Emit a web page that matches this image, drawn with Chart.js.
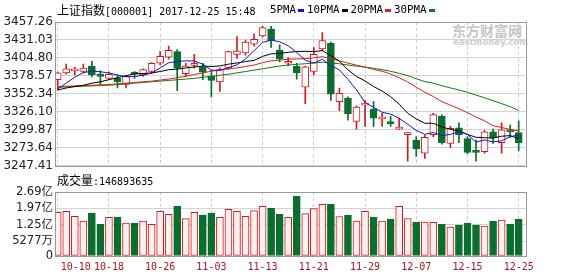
<!DOCTYPE html>
<html lang="zh-CN">
<head>
<meta charset="UTF-8">
<title>上证指数 日K线</title>
<script src="https://cdn.jsdelivr.net/npm/chart.js"></script>
<style>
  body { margin: 0; width: 578px; height: 276px; position: relative; overflow: hidden; background: #fff; }
  canvas { position: absolute; left: 0; }
  .txt { position: absolute; white-space: nowrap; color: #000; line-height: 14px; }
  .cjk { font-family: "Noto Sans CJK SC", sans-serif; font-size: 12px; }
  .mono { font-family: "DejaVu Sans Mono", monospace; font-size: 10px; }
  .leg { font-family: "DejaVu Sans Mono", monospace; font-size: 10.8px; }
  .dash { display: inline-block; width: 6px; height: 3px; margin: 0 3px 0 2px; vertical-align: middle; }
  .wm { position: absolute; white-space: nowrap; color: #c6c6c6; font-family: "Noto Sans CJK SC", sans-serif; font-weight: bold; font-size: 14px; line-height: 16px; }
  .wm2 { position: absolute; white-space: nowrap; color: #cdcdcd; font-family: "DejaVu Sans", sans-serif; font-weight: bold; font-size: 8.5px; line-height: 10px; }
</style>
</head>
<body>
<div class="wm" style="left:452px;top:22px;">东方财富网</div>
<div class="wm2" style="left:453px;top:37px;">eastmoney.com</div>

<canvas id="kline" width="578" height="176" style="top:0"></canvas>
<canvas id="volume" width="578" height="96" style="top:180px"></canvas>

<div class="txt" style="left:57px;top:3px;"><span class="cjk">上证指数</span><span class="mono">[000001] 2017-12-25 15:48</span></div>
<div class="txt leg" style="left:270px;top:3px;">5PMA<span class="dash" style="background:#1414c8"></span>10PMA<span class="dash" style="background:#000"></span>20PMA<span class="dash" style="background:#dc1e1e"></span>30PMA<span class="dash" style="background:#14781e"></span></div>
<div class="txt" style="left:57px;top:173px;"><span class="cjk">成交量</span><span class="mono">:146893635</span></div>

<script>
// daily candles 2017-10-10 .. 2017-12-25 (55 trading days)
const open  = [3373,3383,3386,3385,3393,3380,3375,3375,3366,3382,3380,3385,3397,3406,3414,3382,3394,3392,3378,3370,3390,3410,3412,3425,3437,3447,3416,3397,3393,3362,3385,3418,3426,3341,3346,3312,3336,3330,3316,3311,3301,3293,3285,3266,3293,3320,3280,3303,3287,3269,3268,3297,3281,3298,3296];
const close = [3383,3389,3387,3390,3380,3378,3381,3370,3378,3381,3388,3397,3407,3416,3390,3393,3396,3384,3372,3388,3414,3415,3428,3432,3449,3430,3403,3399,3383,3392,3410,3430,3352,3353,3323,3333,3338,3317,3317,3309,3303,3294,3272,3289,3322,3281,3302,3293,3267,3267,3297,3288,3300,3297,3281];
const high  = [3384,3396,3391,3396,3400,3386,3384,3380,3379,3385,3389,3398,3414,3422,3417,3397,3410,3397,3387,3390,3415,3436,3431,3440,3451,3451,3424,3405,3397,3393,3420,3442,3428,3361,3348,3335,3343,3341,3324,3320,3317,3296,3290,3292,3324,3322,3305,3310,3290,3285,3299,3301,3310,3307,3313];
const low   = [3358,3381,3380,3383,3377,3366,3373,3361,3361,3375,3378,3382,3395,3403,3357,3378,3390,3373,3348,3356,3388,3404,3409,3422,3435,3420,3399,3393,3374,3338,3380,3415,3343,3328,3314,3301,3305,3305,3305,3305,3300,3254,3261,3258,3290,3279,3274,3281,3265,3254,3266,3280,3266,3289,3269];

// moving averages as drawn
const ma5  = [3359.6,3368,3376.7,3383.4,3385.6,3384.6,3383,3379.8,3377.4,3377.6,3379.6,3382.8,3390.2,3397.8,3399.6,3400.6,3400.4,3395.8,3387,3386.6,3390.8,3394.6,3403.4,3415.4,3427.6,3430.8,3428.4,3422.6,3412.8,3401.4,3397.4,3402.8,3393.4,3387.4,3373.6,3358.2,3339.8,3332.8,3325.6,3322.8,3316.8,3308,3299,3293.4,3296,3291.6,3293.2,3297.4,3293,3282,3285.2,3282.4,3283.8,3289.8,3292.6];
const ma10 = [3358,3361,3363,3365,3368,3370,3373,3376,3379,3381.6,3382.1,3382.9,3385,3387.6,3388.6,3390.1,3391.6,3393,3392.4,3393.1,3395.7,3397.5,3399.6,3401.2,3407.1,3410.8,3411.5,3413,3414.1,3414.5,3414.1,3415.6,3408,3400.1,3387.5,3377.8,3371.3,3363.1,3356.5,3348.2,3337.5,3323.9,3315.9,3309.5,3309.4,3304.2,3300.6,3298.2,3293.2,3289,3288.4,3287.8,3290.6,3291.4,3287.3];
const ma20 = [3363,3363.5,3364,3364.5,3365,3365.5,3366,3367,3368,3369,3370,3371,3372.5,3374,3376,3378,3380.5,3383,3385.5,3387.4,3388.9,3390.2,3392.3,3394.4,3397.9,3400.5,3401.6,3403,3403.3,3403.8,3404.9,3406.6,3403.8,3400.7,3397.3,3394.3,3391.4,3388.1,3385.3,3381.4,3375.8,3369.8,3362,3354.8,3348.5,3341,3336,3330.7,3324.9,3318.6,3313,3305.9,3303.3,3300.5,3298.4];
const ma30 = [3362,3362.5,3363,3363.5,3364,3364.5,3365,3366,3367,3368,3369,3370,3371,3372,3373,3374,3375,3376.5,3378,3379.5,3381,3383,3385,3387,3389,3391,3393,3394.5,3395.5,3396.4,3397.3,3398.7,3397.5,3396.3,3394.4,3392.9,3391.5,3389.7,3387.7,3385.3,3382.4,3379,3374.5,3370.3,3368,3364.3,3361.1,3358.1,3354.6,3350.6,3346.7,3342.4,3338.2,3333.7,3328.1];

// volume in 亿
const vol = [1.79,1.84,1.62,1.41,1.76,1.27,1.57,1.57,1.32,1.32,1.41,1.27,1.84,1.71,2.06,1.52,1.79,1.67,1.76,1.57,1.93,1.84,1.62,1.87,2.06,1.98,1.71,1.57,2.50,1.74,1.96,2.15,2.15,1.61,1.67,1.41,1.84,1.58,1.41,1.49,2.06,1.52,1.36,1.36,1.35,1.27,1.14,1.23,1.32,1.23,1.19,1.41,1.45,1.27,1.49];

// axes
const dateTicks = [0, 6, 12, 18, 24, 30, 36, 42, 48, 54];
const dateLabels = ['10-10','10-18','10-26','11-03','11-13','11-21','11-29','12-07','12-15','12-25'];
const priceTicks = [3247.41, 3273.64, 3299.87, 3326.10, 3352.34, 3378.57, 3404.80, 3431.03, 3457.26];
const volTicks = [-0.13, 0.5277, 1.25, 1.97, 2.69];
const volLabels = ['0', '5277万', '1.25亿', '1.97亿', '2.69亿'];

const RED = '#d21c1c', GREEN = '#0b6e2f';
const up = open.map((o, i) => close[i] >= o);

const frame = {
    id: 'frame',
    afterDraw(chart) {
        const a = chart.chartArea, c = chart.ctx;
        c.save();
        c.strokeStyle = '#999';
        c.lineWidth = 1;
        c.strokeRect(Math.round(a.left) - 0.5, Math.round(a.top) + 0.5,
            Math.round(a.right) - Math.round(a.left) + 1, Math.round(a.bottom) - Math.round(a.top));
        c.restore();
    }
};

function xAxis(showLabels) {
    return {
        type: 'linear', min: -0.2, max: 54.81, offset: false,
        afterBuildTicks: s => { s.ticks = dateTicks.map(v => ({ value: v })); },
        afterFit: s => { s.height = showLabels ? 20 : 0; },
        grid: { color: '#cdcdcd', drawTicks: false, offset: false },
        border: { display: false, dash: [3, 3] },
        ticks: {
            display: showLabels, autoSkip: false, maxRotation: 0, padding: 5,
            color: '#b0141c', font: { family: 'DejaVu Sans Mono', size: 10 },
            callback: v => {
                const k = dateTicks.indexOf(v);
                return k === 0 ? '      ' + dateLabels[k] : dateLabels[k];
            }
        }
    };
}

const xy = arr => arr.map((v, i) => ({ x: i, y: v }));
const maLine = (label, data, color) => ({
    type: 'line', label, data: xy(data), borderColor: color, borderWidth: 1,
    pointRadius: 0, tension: 0, order: 0
});

new Chart(document.getElementById('kline'), {
    type: 'bar',
    data: {
        datasets: [
            maLine('5PMA', ma5, '#1414c8'),
            maLine('10PMA', ma10, '#000000'),
            maLine('20PMA', ma20, '#dc1e1e'),
            maLine('30PMA', ma30, '#14781e'),
            {
                label: 'body', order: 1, grouped: false,
                data: open.map((o, i) => ({ x: i, y: [o, close[i]] })),
                backgroundColor: up.map(u => u ? '#ffffff' : GREEN),
                borderColor: up.map(u => u ? RED : GREEN),
                borderWidth: 1, borderSkipped: false, barThickness: 7, minBarLength: 2
            },
            {
                label: 'wick', order: 2, grouped: false,
                data: low.map((l, i) => ({ x: i, y: [l, high[i]] })),
                backgroundColor: up.map(u => u ? RED : GREEN),
                borderWidth: 0, barThickness: 1
            }
        ]
    },
    options: {
        responsive: false, animation: false,
        layout: { padding: { top: 22, right: 52.4, bottom: 10, left: 0 } },
        plugins: { legend: { display: false }, tooltip: { enabled: false } },
        scales: {
            x: xAxis(false),
            y: {
                min: priceTicks[0], max: priceTicks[priceTicks.length - 1],
                afterBuildTicks: s => { s.ticks = priceTicks.map(v => ({ value: v })); },
                afterFit: s => { s.width = 56; },
                grid: { color: '#d4d4d4', drawTicks: false },
                border: { display: false },
                ticks: { autoSkip: false, padding: 3, color: '#222', font: { family: 'DejaVu Sans', size: 12 }, callback: v => v.toFixed(2) }
            }
        }
    },
    plugins: [frame]
});

new Chart(document.getElementById('volume'), {
    type: 'bar',
    data: {
        datasets: [{
            label: '成交量', grouped: false,
            data: xy(vol),
            base: volTicks[0],
            backgroundColor: up.map(u => u ? '#fff0f0' : GREEN),
            borderColor: up.map(u => u ? RED : GREEN),
            borderWidth: 1, borderSkipped: false, barThickness: 7
        }]
    },
    options: {
        responsive: false, animation: false,
        layout: { padding: { top: 12, right: 52.4, bottom: 0, left: 0 } },
        plugins: { legend: { display: false }, tooltip: { enabled: false } },
        scales: {
            x: xAxis(true),
            y: {
                min: volTicks[0], max: volTicks[volTicks.length - 1],
                afterBuildTicks: s => { s.ticks = volTicks.map(v => ({ value: v })); },
                afterFit: s => { s.width = 56; },
                grid: { color: '#d4d4d4', drawTicks: false },
                border: { display: false },
                ticks: {
                    autoSkip: false, padding: 3, color: '#222',
                    font: { family: '"DejaVu Sans", "Noto Sans CJK SC"', size: 11.5 },
                    callback: (v, i) => volLabels[i]
                }
            }
        }
    },
    plugins: [frame]
});
</script>
</body>
</html>
